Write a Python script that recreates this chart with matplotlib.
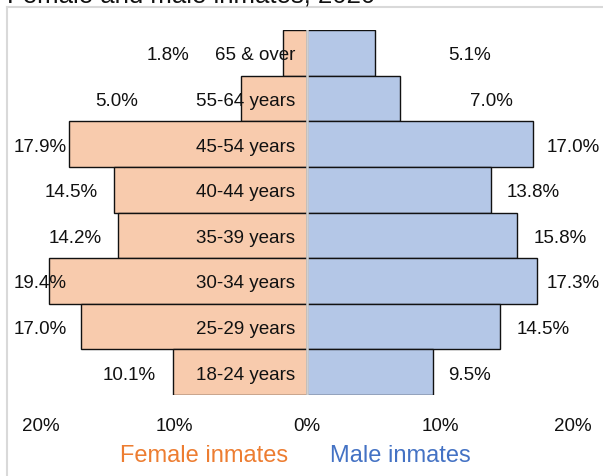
import matplotlib
matplotlib.use("Agg")
import matplotlib.pyplot as plt
from matplotlib.lines import Line2D
import numpy as np

plt.rcParams['font.family'] = ['Liberation Sans', 'DejaVu Sans']

# ---- data (top to bottom) ----
age_groups = ["65 & over", "55-64 years", "45-54 years", "40-44 years",
              "35-39 years", "30-34 years", "25-29 years", "18-24 years"]
female_pct = [1.8, 5.0, 17.9, 14.5, 14.2, 19.4, 17.0, 10.1]
male_pct = [5.1, 7.0, 17.0, 13.8, 15.8, 17.3, 14.5, 9.5]
tick_values = [-20, -10, 0, 10, 20]
title = "Female and male inmates, 2020"

# label anchor positions (layout, data units)
female_label_x = [-8.87, -12.7, -18.05, -15.7, -15.4, -18.05, -18.05, -11.35]
male_label_x = [10.6, 12.26, 18.05, 15.04, 17.07, 18.05, 15.79, 10.6]

W, H = 603, 477
fig = plt.figure(figsize=(W / 100, H / 100), dpi=100)

px = 13.3  # pixels per percent
cx = 307
ax_left, ax_right = 7, 603
ax_top, ax_bot = 31, 396
ax = fig.add_axes([ax_left / W, (H - ax_bot) / H, (ax_right - ax_left) / W, (ax_bot - ax_top) / H])
ax.set_xlim((ax_left - cx) / px, (ax_right - cx) / px)

n = len(age_groups)
y = np.arange(n)[::-1]
ax.set_ylim(-0.5, n - 0.5)

female_color = "#F8CBAD"
male_color = "#B4C7E7"
ax.barh(y, [-v for v in female_pct], height=1.0, color=female_color,
        edgecolor="#111111", linewidth=1.0, zorder=2)
ax.barh(y, male_pct, height=1.0, color=male_color,
        edgecolor="#111111", linewidth=1.0, zorder=2)
ax.axvline(0, color="#D0D0D0", linewidth=1.8, zorder=3)

fs = 13.5
for yi, lab, fv, mv, fx, mx in zip(y, age_groups, female_pct, male_pct, female_label_x, male_label_x):
    ax.text(-0.9, yi, lab, ha="right", va="center_baseline", fontsize=fs, color="#111111", zorder=4)
    ax.text(fx, yi, f"{fv:.1f}%", ha="right", va="center_baseline", fontsize=fs, color="#111111", zorder=4)
    ax.text(mx, yi, f"{mv:.1f}%", ha="left", va="center_baseline", fontsize=fs, color="#111111", zorder=4)

ax.set_xticks(tick_values)
ax.set_xticklabels([f"{abs(t)}%" for t in tick_values], fontsize=fs, color="#111111")
ax.tick_params(axis="x", length=0, pad=16)
ax.set_yticks([])
for s in ax.spines.values():
    s.set_visible(False)
ax.patch.set_alpha(0)

# chart frame (left and top visible)
fig.add_artist(Line2D([7 / W, 7 / W], [0, 1 - 8 / H], transform=fig.transFigure,
                      color="#D9D9D9", linewidth=1.5))
fig.add_artist(Line2D([7 / W, 1], [1 - 8 / H, 1 - 8 / H], transform=fig.transFigure,
                      color="#D9D9D9", linewidth=1.5))

# title (cut off at the top, as in the reference)
fig.text(7 / W, 1 - 3 / H, title, ha="left", va="baseline", fontsize=18.5, color="#111111")

# legend-like labels
fig.text(204.5 / W, 1 - 456 / H, "Female inmates", ha="center", va="center",
         fontsize=17, color="#ED7D31")
fig.text(400 / W, 1 - 456 / H, "Male inmates", ha="center", va="center",
         fontsize=17, color="#4472C4")

fig.savefig("out.png", dpi=100)
